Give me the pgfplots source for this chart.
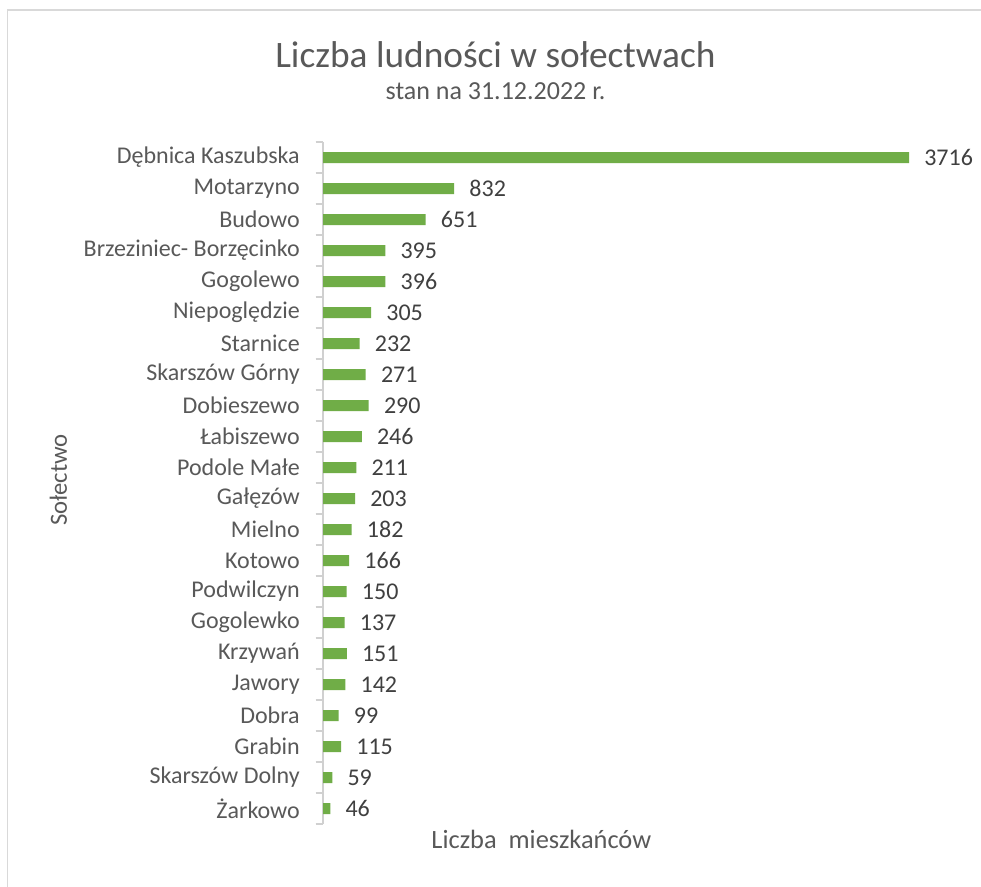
\documentclass[border=0pt]{standalone}
\usepackage{fontspec}
\setmainfont{Carlito}
\usepackage{pgfplots}
\pgfplotsset{compat=1.18}
\definecolor{bargreen}{HTML}{70AD47}
\definecolor{txt}{HTML}{595959}
\definecolor{lbl}{HTML}{404040}
\definecolor{framegray}{HTML}{D9D9D9}
\definecolor{axisgray}{HTML}{D0D0D0}

\begin{document}
\begin{tikzpicture}[x=1pt,y=1pt]
\useasboundingbox (0,0) rectangle (735.75,664.5);
\fill[white] (0,0) rectangle (735.75,664.5);
\draw[framegray, line width=0.9pt] (5.6,-1) -- (5.6,657) -- (737,657);
\begin{axis}[
    at={(242.25pt,46.5pt)},
    anchor=south west,
    scale only axis,
    width=439.5pt,
    height=511.5pt,
    xbar,
    bar width=8.25pt,
    xmin=0, xmax=3716,
    ymin=-0.5, ymax=21.5,
    y dir=reverse,
    axis y line*=left,
    axis x line=none,
    y axis line style={axisgray, line width=0.9pt},
    ytick={0,...,21},
    yticklabels={Dębnica Kaszubska, Motarzyno, Budowo, Brzeziniec- Borzęcinko, Gogolewo, Niepoględzie\ , Starnice, Skarszów Górny, Dobieszewo, Łabiszewo, Podole Małe\ , Gałęzów, Mielno, Kotowo, Podwilczyn, Gogolewko, Krzywań, Jawory, Dobra\ , Grabin, Skarszów Dolny, Żarkowo},
    minor ytick={-0.5,0.5,...,21.5},
    major tick length=0pt,
    minor tick length=5.5pt,
    tick align=outside,
    minor tick style={axisgray, line width=0.9pt},
    yticklabel style={font=\fontsize{18}{20}\selectfont, text=txt, inner sep=0pt, xshift=-17.25pt},
    /pgf/number format/1000 sep={},
    /pgf/number format/assume math mode=true,
    nodes near coords,
    every node near coord/.append style={anchor=west, inner sep=0pt, xshift=11.25pt, font=\fontsize{18}{20}\selectfont, text=lbl},
    clip=false,
]
\addplot[fill=bargreen, draw=none, bar shift=0pt] coordinates {
(3716,0) (832,1) (651,2) (395,3) (396,4) (305,5) (232,6) (271,7) (290,8) (246,9) (211,10)
(203,11) (182,12) (166,13) (150,14) (137,15) (151,16) (142,17) (99,18) (115,19) (59,20) (46,21)
};
\end{axis}
\node[anchor=base, font=\fontsize{28}{34}\selectfont, text=txt] at (371.6,613.5) {Liczba ludności w sołectwach};
\node[anchor=base, font=\fontsize{19.5}{23}\selectfont, text=txt] at (371.6,589.5) {stan na 31.12.2022 r.};
\node[anchor=base, font=\fontsize{19.8}{23}\selectfont, text=txt] at (406,28.5) {Liczba\ \ mieszkańców};
\node[anchor=base, rotate=90, font=\fontsize{18.5}{22}\selectfont, text=txt] at (50.25,304.5) {Sołectwo};
\end{tikzpicture}
\end{document}
